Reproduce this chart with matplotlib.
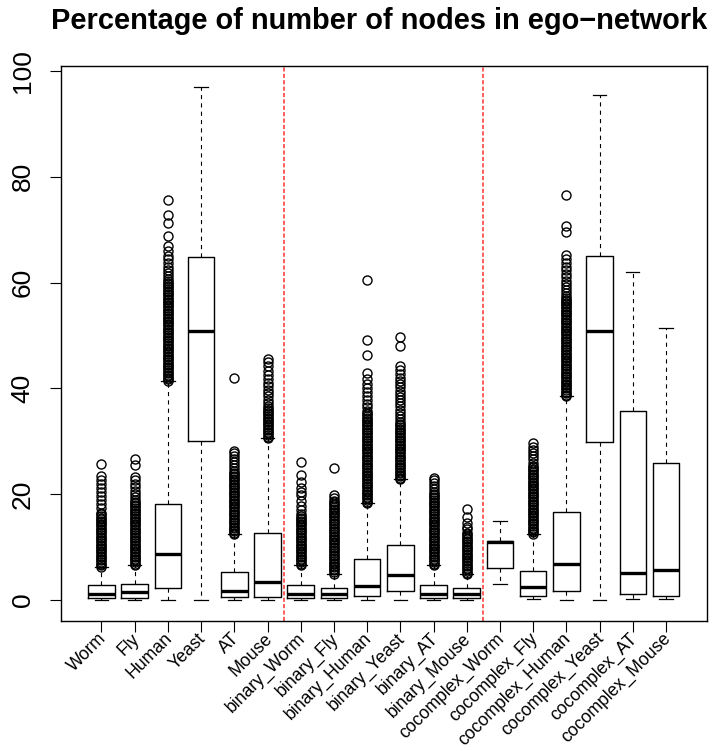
import matplotlib.pyplot as plt
from matplotlib.transforms import ScaledTranslation

plt.rcParams["font.family"] = ["Liberation Sans", "DejaVu Sans"]
plt.rcParams["lines.scale_dashes"] = False

labels = ["Worm", "Fly", "Human", "Yeast", "AT", "Mouse",
          "binary_Worm", "binary_Fly", "binary_Human", "binary_Yeast", "binary_AT", "binary_Mouse",
          "cocomplex_Worm", "cocomplex_Fly", "cocomplex_Human", "cocomplex_Yeast", "cocomplex_AT",
          "cocomplex_Mouse"]

q1 = [0.47, 0.47, 2.34, 30.1, 0.54, 0.61, 0.41, 0.41, 0.82, 1.73, 0.41, 0.47,
      6.0, 0.82, 1.73, 29.8, 1.17, 0.68]
med = [1.24, 1.45, 8.8, 50.9, 1.8, 3.4, 1.24, 1.17, 2.6, 4.7, 1.24, 1.24,
       11.0, 2.56, 6.74, 50.9, 5.2, 5.77]
q3 = [2.84, 2.98, 18.1, 64.8, 5.28, 12.7, 2.9, 2.28, 7.8, 10.4, 2.9, 2.35,
      11.1, 5.56, 16.6, 65.1, 35.7, 26.0]
whislo = [0.1, 0.1, 0.1, 0.0, 0.1, 0.1, 0.1, 0.1, 0.1, 0.1, 0.1, 0.1,
          3.1, 0.26, 0.1, 0.0, 0.2, 0.2]
whishi = [6.3, 6.6, 41.4, 97.0, 12.4, 30.6, 6.6, 5.0, 18.3, 22.8, 6.6, 4.9,
          15.0, 12.5, 38.5, 95.4, 62.0, 51.5]

# outlying points per group (the low runs are packed tight)
worm_out = [6.3, 6.6, 6.9, 7.2, 7.5, 7.8, 8.1, 8.4, 8.7, 9.0, 9.3, 9.6, 9.9, 10.2, 10.5,
            10.8, 11.1, 11.4, 11.7, 12.0, 12.3, 12.6, 12.9, 13.2, 13.5, 13.8, 14.1, 14.4,
            14.7, 15.0, 15.3, 15.6, 15.9, 16.2, 16.5,
            17.4, 18.2, 18.9, 19.7, 20.4, 21.2, 22.0, 22.7, 23.4, 25.7]
fly_out = [6.6, 6.9, 7.2, 7.5, 7.8, 8.1, 8.4, 8.7, 9.0, 9.3, 9.6, 9.9, 10.2, 10.5, 10.8,
           11.1, 11.4, 11.7, 12.0, 12.3, 12.6, 12.9, 13.2, 13.5, 13.8, 14.1, 14.4, 14.7,
           15.0, 15.3, 15.6, 15.9, 16.2, 16.5, 16.8, 17.1, 17.4, 17.7, 18.0, 18.3, 18.6,
           18.9, 19.5, 20.1, 20.7, 21.3, 21.9, 22.6, 23.3, 25.5, 26.7]
human_out = [41.4, 41.7, 42.0, 42.3, 42.6, 42.9, 43.2, 43.5, 43.8, 44.1, 44.4, 44.7, 45.0,
             45.3, 45.6, 45.9, 46.2, 46.5, 46.8, 47.1, 47.4, 47.7, 48.0, 48.3, 48.6, 48.9,
             49.2, 49.5, 49.8, 50.1, 50.4, 50.7, 51.0, 51.3, 51.6, 51.9, 52.2, 52.5, 52.8,
             53.1, 53.4, 53.7, 54.0, 54.3, 54.6, 54.9, 55.2, 55.5, 55.8, 56.1, 56.4, 56.7,
             57.0, 57.3, 57.6, 57.9, 58.2, 58.5, 58.8, 59.1, 59.4, 59.7, 60.0, 60.3, 60.6,
             61.2, 61.8, 62.3, 63.0, 63.8, 64.4, 65.1, 66.0, 66.9, 68.8, 71.3, 72.8, 75.7]
yeast_out = []
at_out = [12.4, 12.7, 13.0, 13.3, 13.6, 13.9, 14.2, 14.5, 14.8, 15.1, 15.4, 15.7, 16.0,
          16.3, 16.6, 16.9, 17.2, 17.5, 17.8, 18.1, 18.4, 18.7, 19.0, 19.3, 19.6, 19.9,
          20.2, 20.5, 20.8, 21.1, 21.4, 21.7, 22.0, 22.3, 22.6, 22.9, 23.2, 23.5, 23.8,
          24.1, 24.4, 25.0, 25.6, 26.1, 26.7, 27.2, 27.8, 28.2, 41.9]
mouse_out = [30.6, 30.9, 31.2, 31.5, 31.8, 32.1, 32.4, 32.7, 33.0, 33.3, 33.6, 33.9, 34.2,
             34.5, 34.8, 35.1, 35.4, 35.7, 36.0, 36.3, 36.6,
             37.2, 37.9, 38.5, 39.2, 39.7, 40.4, 41.1, 41.8, 42.5, 43.3, 44.2, 45.0, 45.6]
b_worm_out = [6.6, 6.9, 7.2, 7.5, 7.8, 8.1, 8.4, 8.7, 9.0, 9.3, 9.6, 9.9, 10.2, 10.5, 10.8,
              11.1, 11.4, 11.7, 12.0, 12.3, 12.6, 12.9, 13.2, 13.5, 13.8, 14.1, 14.4, 14.7,
              15.0, 15.3, 15.6, 15.9, 16.2,
              17.1, 17.8, 18.8, 19.8, 20.5, 21.2, 22.3, 23.7, 26.1]
b_fly_out = [5.0, 5.3, 5.6, 5.9, 6.2, 6.5, 6.8, 7.1, 7.4, 7.7, 8.0, 8.3, 8.6, 8.9, 9.2, 9.5,
             9.8, 10.1, 10.4, 10.7, 11.0, 11.3, 11.6, 11.9, 12.2, 12.5, 12.8, 13.1, 13.4,
             13.7, 14.0, 14.3, 14.6, 14.9, 15.2, 15.5, 15.8, 16.1, 16.4, 16.7, 17.0, 17.3,
             17.6, 17.9, 18.2, 18.5, 18.8, 19.3, 19.8, 24.9]
b_human_out = [18.3, 18.6, 18.9, 19.2, 19.5, 19.8, 20.1, 20.4, 20.7, 21.0, 21.3, 21.6,
               21.9, 22.2, 22.5, 22.8, 23.1, 23.4, 23.7, 24.0, 24.3, 24.6, 24.9, 25.2,
               25.5, 25.8, 26.1, 26.4, 26.7, 27.0, 27.3, 27.6, 27.9, 28.2, 28.5, 28.8,
               29.1, 29.4, 29.7, 30.0, 30.3, 30.6, 30.9, 31.2, 31.5, 31.8, 32.1, 32.4,
               32.7, 33.0, 33.3, 33.6, 33.9, 34.2, 34.5, 34.8, 35.1, 35.4, 35.7,
               36.4, 37.1, 37.9, 38.6, 39.3, 40.1, 40.9, 41.8, 42.9, 46.3, 49.1, 60.5]
b_yeast_out = [22.8, 23.1, 23.4, 23.7, 24.0, 24.3, 24.6, 24.9, 25.2, 25.5, 25.8, 26.1,
               26.4, 26.7, 27.0, 27.3, 27.6, 27.9, 28.2, 28.5, 28.8, 29.1, 29.4, 29.7,
               30.0, 30.3, 30.6, 30.9, 31.2, 31.5, 31.8, 32.1, 32.4, 32.7, 33.0, 33.3, 33.6,
               34.2, 34.8, 35.4, 36.0, 36.6, 37.2, 37.8, 38.4, 39.0, 39.6, 40.2, 40.8,
               41.4, 42.0, 42.7, 43.4, 44.2, 48.1, 49.8]
b_at_out = [6.6, 6.9, 7.2, 7.5, 7.8, 8.1, 8.4, 8.7, 9.0, 9.3, 9.6, 9.9, 10.2, 10.5, 10.8,
            11.1, 11.4, 11.7, 12.0, 12.3, 12.6, 12.9, 13.2, 13.5, 13.8, 14.1, 14.4, 14.7,
            15.0, 15.3, 15.6, 15.9, 16.2, 16.5, 16.8, 17.1, 17.4, 17.7, 18.0, 18.3, 18.6,
            18.9, 19.2, 19.5, 19.8, 20.1, 20.4, 21.0, 21.6, 22.2, 22.7, 23.1]
b_mouse_out = [4.9, 5.2, 5.5, 5.8, 6.1, 6.4, 6.7, 7.0, 7.3, 7.6, 7.9, 8.2, 8.5, 8.8, 9.1,
               9.4, 9.7, 10.0, 10.3, 10.6, 10.9, 11.2, 11.5, 11.8, 12.1, 12.4, 12.7,
               13.4, 13.9, 14.5, 15.7, 17.2]
c_worm_out = []
c_fly_out = [12.5, 12.8, 13.1, 13.4, 13.7, 14.0, 14.3, 14.6, 14.9, 15.2, 15.5, 15.8, 16.1,
             16.4, 16.7, 17.0, 17.3, 17.6, 17.9, 18.2, 18.5, 18.8, 19.1, 19.4, 19.7, 20.0,
             20.3, 20.6, 20.9, 21.2, 21.5, 21.8, 22.1, 22.4, 22.7, 23.0, 23.3, 23.6, 23.9,
             24.2, 24.5, 24.8, 25.1, 25.4, 26.0, 26.6, 27.2, 27.8, 28.4, 29.0, 29.6]
c_human_out = [38.5, 38.8, 39.1, 39.4, 39.7, 40.0, 40.3, 40.6, 40.9, 41.2, 41.5, 41.8,
               42.1, 42.4, 42.7, 43.0, 43.3, 43.6, 43.9, 44.2, 44.5, 44.8, 45.1, 45.4,
               45.7, 46.0, 46.3, 46.6, 46.9, 47.2, 47.5, 47.8, 48.1, 48.4, 48.7, 49.0,
               49.3, 49.6, 49.9, 50.2, 50.5, 50.8, 51.1, 51.4, 51.7, 52.0, 52.3, 52.6,
               52.9, 53.2, 53.5, 53.8, 54.1, 54.4, 54.7, 55.0, 55.3, 55.6, 55.9, 56.2,
               56.5, 56.8, 57.1, 57.4, 58.0, 58.6, 59.2, 59.8, 60.4, 61.0, 61.6, 62.3,
               63.0, 63.8, 64.5, 65.3, 69.6, 70.7, 76.6]
c_yeast_out = []
c_at_out = []
c_mouse_out = []

fliers = [worm_out, fly_out, human_out, yeast_out, at_out, mouse_out,
          b_worm_out, b_fly_out, b_human_out, b_yeast_out, b_at_out, b_mouse_out,
          c_worm_out, c_fly_out, c_human_out, c_yeast_out, c_at_out, c_mouse_out]

stats = []
for i in range(len(labels)):
    stats.append(dict(label=labels[i], q1=q1[i], med=med[i], q3=q3[i],
                      whislo=whislo[i], whishi=whishi[i], fliers=fliers[i]))

positions = list(range(1, len(labels) + 1))

fig = plt.figure(figsize=(7.2, 7.51), dpi=100)
ax = fig.add_axes([0.0847, 0.1735, 0.8966, 0.739])

ax.bxp(stats, positions=positions, widths=0.8, capwidths=0.4,
       boxprops=dict(color="black", linewidth=1.0),
       whiskerprops=dict(color="black", linewidth=0.8, linestyle=(0, (3.0, 3.0))),
       capprops=dict(color="black", linewidth=0.9),
       medianprops=dict(color="black", linewidth=2.4, solid_capstyle="butt"),
       flierprops=dict(marker="o", markerfacecolor="none", markeredgecolor="black",
                       markersize=6.5, markeredgewidth=1.0, linestyle="none"))

# group separators
for xsep in [6.5, 12.5]:
    ax.axvline(xsep, color="#ff3030", linewidth=1.1, linestyle=(0, (3.0, 1.6)))

ax.set_xlim(-0.22, 19.22)
ax.set_ylim(-3.9, 101.0)

ax.set_yticks([0, 20, 40, 60, 80, 100])
ax.set_yticklabels(["0", "20", "40", "60", "80", "100"], rotation=90, va="center", fontsize=19)
ax.tick_params(axis="y", length=8, width=0.8, pad=11)

ax.set_xticks(positions)
ax.set_xticklabels(labels, rotation=45, ha="right", va="center", rotation_mode="anchor",
                   fontsize=12.7)
ax.tick_params(axis="x", length=8, width=0.8, pad=3)
shift = ScaledTranslation(2 / 100, 0, fig.dpi_scale_trans)
for lab in ax.get_xticklabels():
    lab.set_transform(lab.get_transform() + shift)

for side in ax.spines.values():
    side.set_linewidth(1.0)

fig.text(0.527, 0.9614, "Percentage of number of nodes in ego\u2212network",
         ha="center", va="baseline", fontsize=20.9, fontweight="bold")

fig.savefig("out.png", dpi=100)
